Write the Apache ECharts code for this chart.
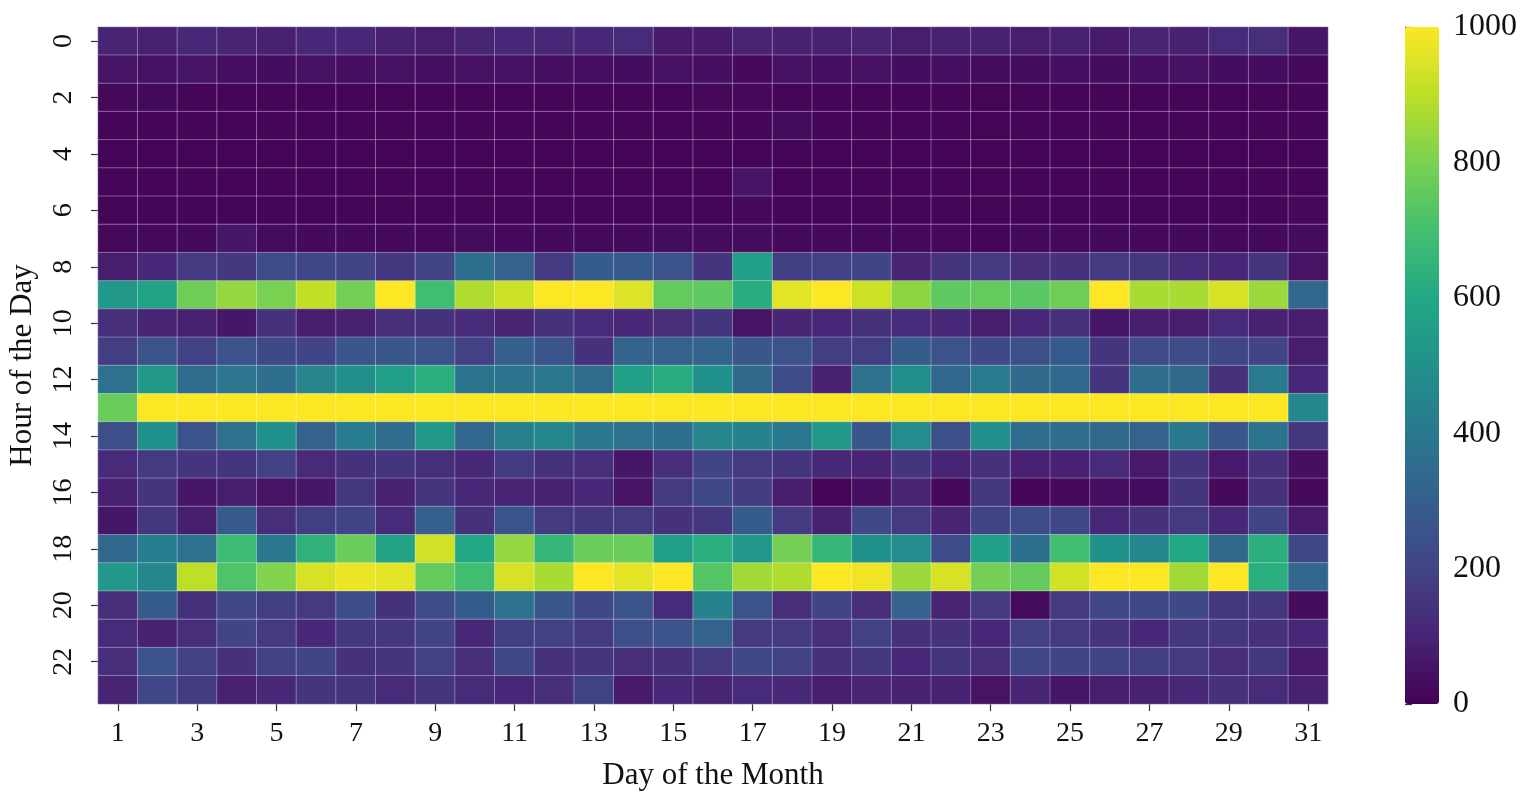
<!DOCTYPE html>
<html>
<head>
<meta charset="utf-8">
<script src="https://cdn.jsdelivr.net/npm/echarts@6/dist/echarts.min.js"></script>
<style>
html,body{margin:0;padding:0;background:#fff;}
#chart{width:1532px;height:798px;}
</style>
</head>
<body>
<div id="chart"></div>
<script>
const days = Array.from({length:31}, (_, i) => String(i + 1));
const hours = Array.from({length:24}, (_, i) => String(i));
const colorTicks = [0, 200, 400, 600, 800, 1000];

const h00 = [100,90,110,100,90,110,110,90,80,100,110,110,110,120,70,70,100,90,90,100,80,90,90,80,90,70,100,90,120,130,60];
const h01 = [50,45,55,40,35,45,40,45,40,45,45,40,40,35,45,40,20,45,40,45,35,40,30,30,40,30,40,45,35,35,25];
const h02 = [20,25,15,15,15,15,15,15,15,15,15,15,15,15,15,20,20,15,15,15,15,15,10,15,15,15,15,15,15,15,15];
const h03 = [15,15,15,15,15,15,15,15,15,15,15,15,15,15,15,15,15,30,15,15,15,15,10,15,15,15,15,15,15,15,15];
const h04 = [12,12,12,12,12,12,12,12,12,12,12,12,12,12,12,12,12,12,12,12,12,12,10,12,12,12,12,12,12,12,12];
const h05 = [15,15,15,15,15,15,15,15,15,15,15,15,15,15,15,15,50,15,15,15,15,15,10,15,15,15,15,15,15,15,15];
const h06 = [15,15,15,15,15,15,15,15,15,15,15,15,15,15,15,15,20,15,15,15,15,15,10,15,15,15,15,15,15,15,20];
const h07 = [20,25,25,60,30,25,25,25,25,30,25,25,25,25,35,30,30,25,25,25,25,20,15,25,25,25,25,25,25,25,30];
const h08 = [80,110,170,160,230,210,200,160,200,360,310,170,290,280,250,150,560,180,190,200,100,150,170,130,140,170,160,120,110,150,50];
const h09 = [530,580,780,840,800,910,790,1000,690,880,920,1000,1000,950,760,750,620,960,1000,920,830,750,760,740,780,1000,870,870,940,850,330];
const h10 = [130,100,90,60,140,80,90,130,140,120,100,140,120,110,130,150,50,100,110,140,120,110,80,110,140,60,80,80,120,90,80];
const h11 = [180,260,190,250,220,200,270,270,250,190,300,260,140,320,310,320,270,250,180,180,290,250,220,240,280,150,230,225,210,200,80];
const h12 = [370,530,350,390,360,450,490,560,630,380,380,400,350,560,620,500,340,230,90,370,490,330,410,340,330,150,350,340,140,410,110];
const h13 = [770,1000,1000,1000,1000,1000,1000,1000,1000,1000,1000,1000,1000,1000,1000,1000,1000,1000,1000,1000,1000,1000,1000,1000,1000,1000,1000,1000,1000,1000,460];
const h14 = [240,500,250,370,500,310,420,350,530,330,430,460,400,370,360,450,440,400,530,270,480,240,490,350,355,340,310,400,270,380,160];
const h15 = [120,170,150,150,190,120,140,150,130,110,170,140,130,60,130,200,170,150,110,100,150,100,140,90,90,120,70,150,70,140,40];
const h16 = [90,150,60,80,50,60,160,90,150,110,100,90,110,50,170,220,175,80,10,40,100,25,160,15,25,40,35,150,25,140,25];
const h17 = [60,160,80,280,130,180,200,120,300,140,260,170,160,170,140,160,290,170,90,220,170,100,200,230,210,110,140,170,110,200,70];
const h18 = [330,420,370,680,400,640,770,580,930,600,840,660,770,770,560,630,520,790,660,500,480,230,560,360,690,500,460,600,340,630,220];
const h19 = [530,460,900,720,810,940,970,960,760,690,940,870,1000,960,1000,730,860,880,1000,980,850,940,790,760,930,1000,1000,860,1000,630,330];
const h20 = [130,290,140,210,180,170,235,140,230,290,370,270,220,260,120,440,260,130,200,130,310,100,170,30,170,210,220,220,160,160,30];
const h21 = [120,90,130,200,170,110,160,160,200,110,180,190,170,240,250,310,170,170,130,190,140,140,110,190,170,150,110,160,160,140,110];
const h22 = [130,260,190,140,190,200,140,150,190,130,220,140,150,130,140,170,220,190,140,160,110,150,130,210,200,200,180,170,130,160,70];
const h23 = [100,210,175,90,110,150,150,120,150,120,110,130,195,70,110,100,120,110,80,100,90,90,50,100,60,80,90,110,140,120,90];

const rows = [h00,h01,h02,h03,h04,h05,h06,h07,h08,h09,h10,h11,h12,h13,h14,h15,h16,h17,h18,h19,h20,h21,h22,h23];
const cells = [];
rows.forEach((row, hi) => row.forEach((v, di) => cells.push([di, hi, v])));

const viridis = ['#440154','#482475','#414487','#355f8d','#2a788e','#21918c','#22a884','#44bf70','#7ad151','#bddf26','#fde725'];
const FONT = '"Liberation Serif", "Times New Roman", serif';

const chart = echarts.init(document.getElementById('chart'));
chart.setOption({
  backgroundColor: '#ffffff',
  animation: false,
  grid: [
    {left: 98, top: 27, width: 1230, height: 677, containLabel: false, outerBoundsMode: 'none'},
    {left: 1405, top: 27, width: 34, height: 677, containLabel: false, outerBoundsMode: 'none'}
  ],
  xAxis: [
    {
      type: 'category', data: days, gridIndex: 0,
      name: 'Day of the Month', nameLocation: 'middle', nameGap: 56,
      nameTextStyle: {fontFamily: FONT, fontSize: 31, color: '#111'},
      axisLine: {show: false},
      axisTick: {show: true, alignWithLabel: true, interval: 1, length: 7, lineStyle: {color: '#333', width: 1.2}},
      axisLabel: {interval: 1, fontFamily: FONT, fontSize: 28, color: '#111', margin: 16},
      splitLine: {show: false}
    },
    {type: 'value', gridIndex: 1, show: false, min: 0, max: 1}
  ],
  yAxis: [
    {
      type: 'category', data: hours, gridIndex: 0, inverse: true,
      name: 'Hour of the Day', nameLocation: 'middle', nameGap: 60,
      nameTextStyle: {fontFamily: FONT, fontSize: 31, color: '#111'},
      axisLine: {show: false},
      axisTick: {show: true, alignWithLabel: true, interval: 1, length: 7, lineStyle: {color: '#333', width: 1.2}},
      axisLabel: {interval: 1, rotate: 90, fontFamily: FONT, fontSize: 28, color: '#111', margin: 20},
      splitLine: {show: false}
    },
    {
      type: 'value', gridIndex: 1, position: 'right', min: 0, max: 1000, interval: 200,
      axisLine: {show: false},
      axisTick: {show: true, length: 7, lineStyle: {color: '#333', width: 1.2}},
      axisLabel: {fontFamily: FONT, fontSize: 32, color: '#111', margin: 14,
        formatter: v => colorTicks.includes(v) ? String(v) : ''},
      splitLine: {show: false}
    }
  ],
  visualMap: {
    type: 'continuous', min: 0, max: 1000, calculable: false, seriesIndex: 0,
    orient: 'vertical', left: 1405, top: 27, itemWidth: 34, itemHeight: 677,
    padding: 0, text: null, showLabel: false, realtime: false, hoverLink: false,
    inRange: {color: viridis}
  },
  series: [{
    type: 'heatmap', xAxisIndex: 0, yAxisIndex: 0, data: cells,
    itemStyle: {borderColor: 'rgba(255,255,255,0.32)', borderWidth: 1},
    emphasis: {disabled: true}
  }]
});
</script>
</body>
</html>
